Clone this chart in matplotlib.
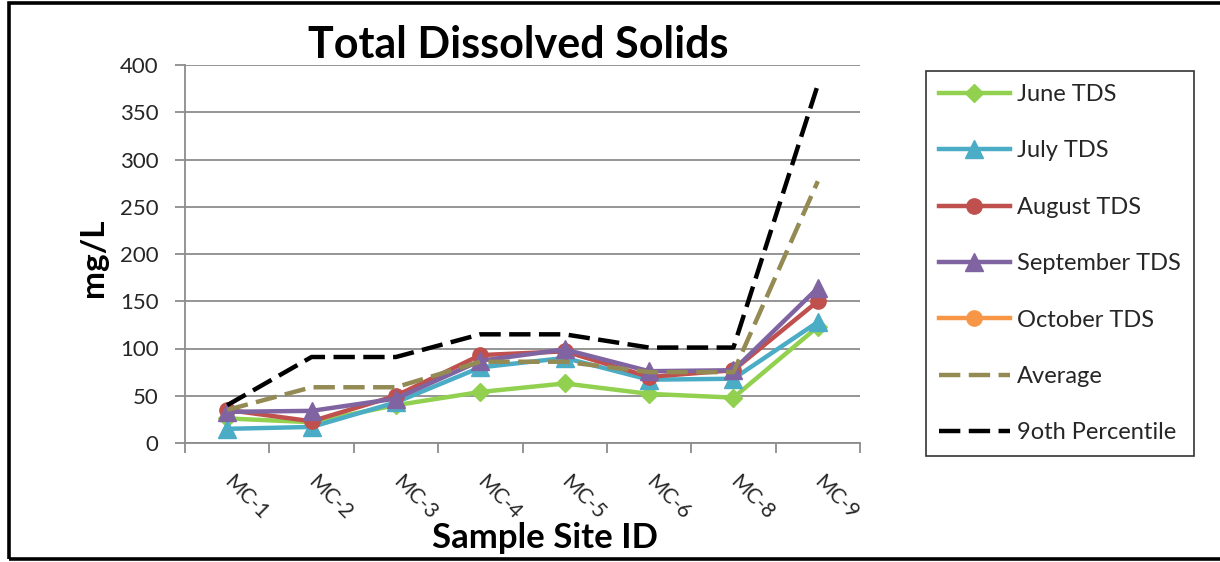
import numpy as np
import matplotlib
matplotlib.use("Agg")
import matplotlib.pyplot as plt
from matplotlib.patches import Rectangle

plt.rcParams['font.family'] = ['Lato', 'DejaVu Sans']

# Werte
sites = ["MC-1", "MC-2", "MC-3", "MC-4", "MC-5", "MC-6", "MC-8", "MC-9"]
june = [26, 22, 40, 54, 63, 52, 48, 123]
july = [15, 17, 43, 80, 90, 67, 68, 128]
august = [35, 23, 50, 93, 97, 70, 77, 150]
september = [33, 34, 47, 87, 99, 76, 77, 164]
october = [None, None, None, None, None, None, None, None]
average = [35, 59, 59, 86, 86, 75, 75, 277]
percentile90 = [40, 91, 91, 115, 115, 101, 101, 379]

W, H = 1220, 562
fig = plt.figure(figsize=(W / 100, H / 100), dpi=100)
ax = fig.add_axes([185 / W, 1 - 443 / H, 675 / W, 378 / H])

x = np.arange(1, len(sites) + 1)
lw = 3.2

series = [
    ("June TDS", june, "#92D050", "D", 9.5),
    ("July TDS", july, "#4BACC6", "^", 13),
    ("August TDS", august, "#C0504D", "o", 11),
    ("September TDS", september, "#8064A2", "^", 13),
    ("October TDS", october, "#F79646", "o", 11),
]
handles = []
for label, vals, col, mk, ms in series:
    y = np.array(vals, dtype=float)
    ln, = ax.plot(x, y, color=col, lw=lw, marker=mk, markersize=ms,
                  markerfacecolor=col, markeredgecolor=col, label=label,
                  solid_joinstyle="round", zorder=3)
    handles.append(ln)

ln, = ax.plot(x, average, color="#948A54", lw=lw, linestyle=(0, (4.8, 1.9)),
              dash_capstyle="butt", label="Average", zorder=4)
handles.append(ln)
ln, = ax.plot(x, percentile90, color="black", lw=lw, linestyle=(0, (4.8, 1.9)),
              dash_capstyle="butt", label="9oth Percentile", zorder=5)
handles.append(ln)

# Achsen
ax.set_xlim(0.5, len(sites) + 0.5)
ax.set_ylim(0, 400)
ax.set_yticks(np.arange(0, 401, 50))
ax.yaxis.grid(True, color="#8C8C8C", lw=1.3)
ax.set_axisbelow(True)
for s in ["top", "right"]:
    ax.spines[s].set_visible(False)
for s in ["left", "bottom"]:
    ax.spines[s].set_color("#8C8C8C")
    ax.spines[s].set_linewidth(1.3)

ax.set_xticks(np.arange(0.5, len(sites) + 1, 1))
ax.set_xticklabels([])
ax.set_xticks(x, minor=True)
ax.set_xticklabels(sites, minor=True, rotation=-45, ha="left", va="center",
                   rotation_mode="anchor", fontsize=15, color="#262626")
ax.tick_params(axis="x", which="major", length=7, width=1.3, color="#8C8C8C")
ax.tick_params(axis="x", which="minor", length=0, pad=26)
ax.tick_params(axis="y", length=7, width=1.3, color="#8C8C8C",
               labelsize=16, labelcolor="#262626", pad=12)

fig.text(518 / W, 1 - 58 / H, "Total Dissolved Solids", ha="center",
         va="baseline", fontsize=31, fontweight="bold")
fig.text(93 / W, 1 - 258 / H, "mg/L", rotation=90, ha="center", va="center",
         fontsize=24, fontweight="bold")
fig.text(545 / W, 1 - 538 / H, "Sample Site ID", ha="center", va="center",
         fontsize=25, fontweight="bold")

leg = fig.legend(handles=handles, loc="upper left",
                 bbox_to_anchor=(926 / W, 1 - 71 / H), fontsize=17,
                 frameon=True, fancybox=False, edgecolor="black",
                 handlelength=3.0, handletextpad=0.3, labelspacing=1.5,
                 borderpad=0.55, numpoints=1, borderaxespad=0)
leg.get_frame().set_linewidth(1.2)
for t in leg.get_texts():
    t.set_color("#262626")

# Rahmen um das Bild
fig.add_artist(Rectangle((9 / W, 3 / H), 1.05, 1 - 6 / H, transform=fig.transFigure,
                         fill=False, edgecolor="black", lw=2.6, clip_on=False))

fig.savefig("out.png", dpi=100)
